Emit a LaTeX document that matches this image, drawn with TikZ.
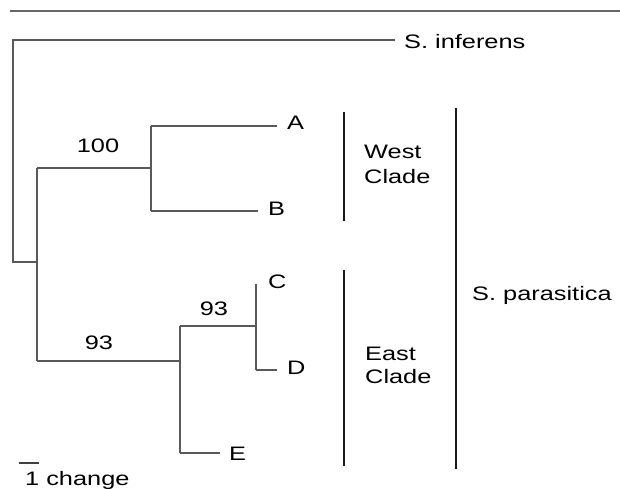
\documentclass[tikz,border=0pt]{standalone}
\usepackage{fontspec}
\setmainfont{Liberation Sans}
\newcommand{\wt}[1]{\scalebox{1.3}[1]{#1}}
\begin{document}
\begin{tikzpicture}[x=1pt,y=-1pt,
  branch/.style={draw=black!65,line width=1.1pt},
  bar/.style={draw=black!90,line width=2.4pt},
  lab/.style={anchor=base west,inner sep=0pt,font=\fontsize{19.5}{25}\selectfont},
  boot/.style={anchor=base,inner sep=0pt,font=\fontsize{19.5}{25}\selectfont}]
\useasboundingbox (0,0) rectangle (620,489);
% top rule
\coordinate (rl) at (10,11);
\coordinate (rr) at (620,11);
\draw[draw=black!60,line width=1.4pt] (rl) -- (rr);
% tree coordinates
\coordinate (rootTop) at (13,40);
\coordinate (root) at (13,262);
\coordinate (n1) at (37,262);
\coordinate (n1t) at (37,168);
\coordinate (n1b) at (37,361);
\coordinate (wt) at (151,168);
\coordinate (wA) at (151,126);
\coordinate (wB) at (151,211);
\coordinate (et) at (180,361);
\coordinate (eC) at (180,326);
\coordinate (eE) at (180,453);
\coordinate (cd) at (256,326);
\coordinate (cdC) at (256,284);
\coordinate (cdD) at (256,370);
\coordinate (tipSI) at (395,40);
\coordinate (tipA) at (277,126);
\coordinate (tipB) at (258,211);
\coordinate (tipD) at (277,370);
\coordinate (tipE) at (220,453);
% labels
\node[lab] (SI) at (404,49) {\wt{S. inferens}};
\node[lab] (A) at (287,130) {\wt{A}};
\node[lab] (B) at (268,215) {\wt{B}};
\node[lab] (C) at (268,288) {\wt{C}};
\node[lab] (D) at (287,374) {\wt{D}};
\node[lab] (E) at (229,460) {\wt{E}};
\node[boot] (b100) at (98,153) {\wt{100}};
\node[boot] (b93a) at (214,315) {\wt{93}};
\node[boot] (b93b) at (99,349) {\wt{93}};
% branches
\draw[branch] (tipSI) -- (rootTop) -- (root) -- (n1);
\draw[branch] (n1t) -- (n1b);
\draw[branch] (n1t) -- (wt);
\draw[branch] (wA) -- (wB);
\draw[branch] (wA) -- (tipA);
\draw[branch] (wB) -- (tipB);
\draw[branch] (n1b) -- (et);
\draw[branch] (eC) -- (eE);
\draw[branch] (eC) -- (cd);
\draw[branch] (cdC) -- (cdD);
\draw[branch] (cdD) -- (tipD);
\draw[branch] (eE) -- (tipE);
% clade bars
\coordinate (wbT) at (344,112);
\coordinate (wbB) at (344,221);
\coordinate (ebT) at (344,270);
\coordinate (ebB) at (344,466);
\coordinate (pbT) at (456,108);
\coordinate (pbB) at (456,469);
\draw[bar] (wbT) -- (wbB);
\draw[bar] (ebT) -- (ebB);
\draw[bar] (pbT) -- (pbB);
\node[lab] (west1) at (364,158) {\wt{West}};
\node[lab] (west2) at (364,183) {\wt{Clade}};
\node[lab] (east1) at (365,360) {\wt{East}};
\node[lab] (east2) at (365,383) {\wt{Clade}};
\node[lab] (SP) at (472,300) {\wt{S. parasitica}};
% scale bar
\coordinate (sl) at (19,463);
\coordinate (sr) at (39,463);
\draw[draw=black!75,line width=1.2pt] (sl) -- (sr);
\node[lab] (scale) at (25,485) {\wt{1 change}};
\end{tikzpicture}
\end{document}
